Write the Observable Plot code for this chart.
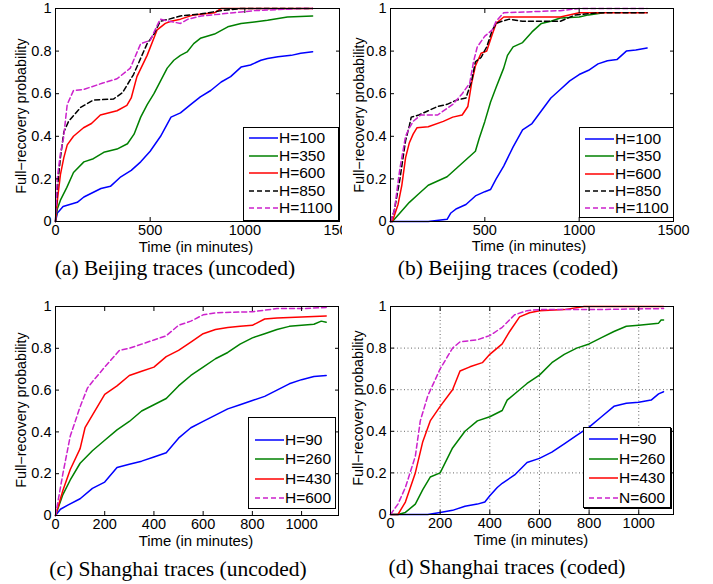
<!DOCTYPE html>
<html>
<head>
<meta charset="utf-8">
<script src="https://cdn.jsdelivr.net/npm/d3@7"></script>
<script src="https://cdn.jsdelivr.net/npm/@observablehq/plot@0.6"></script>
<style>
  html, body { margin: 0; padding: 0; background: #fff; }
  #root { position: relative; width: 713px; height: 584px; overflow: hidden; background: #fff; }
  .panel { position: absolute; background: #fff; }
  .ylab { position: absolute; font: 14.3px "Liberation Sans", Arial, sans-serif; transform: translate(-50%, -50%) rotate(-90deg); white-space: nowrap; color: #000; }
  .xlab { position: absolute; font: 14.9px "Liberation Sans", Arial, sans-serif; transform: translate(-50%, -50%); white-space: nowrap; color: #000; }
  .cap { position: absolute; font: 21.5px "Liberation Serif", "Times New Roman", serif; transform: translate(-50%, -50%); white-space: nowrap; color: #000; }
  .legend { position: absolute; border: 1px solid #000; background: #fff; box-sizing: border-box; }
  .legend .row { position: absolute; left: 0; height: 16px; font: 15.5px "Liberation Sans", Arial, sans-serif; line-height: 16px; white-space: nowrap; }
  .legend svg { position: absolute; top: 0; }
  .legend span { position: absolute; top: 0; }
</style>
</head>
<body>
<div id="root"></div>
<script>
// ---------- data ----------
const xTicksBeijing = [0, 500, 1000, 1500];
const xTicksShanghai = [0, 200, 400, 600, 800, 1000];
const yTicks = [0, 0.2, 0.4, 0.6, 0.8, 1];

const beijingLabels = ["H=100", "H=350", "H=600", "H=850", "H=1100"];
const shanghaiLabelsC = ["H=90", "H=260", "H=430", "H=600"];
const shanghaiLabelsD = ["H=90", "H=260", "H=430", "N=600"];

const captions = ["(a) Beijing traces (uncoded)", "(b) Beijing traces (coded)", "(c) Shanghai traces (uncoded)", "(d) Shanghai traces (coded)"];

// (a) Beijing uncoded: [minutes, probability]
const a_H100 = [[0,0],[10,0.04],[40,0.07],[115,0.09],[150,0.115],[240,0.155],[290,0.165],[345,0.21],[400,0.24],[450,0.28],[500,0.33],[555,0.4],[610,0.49],[660,0.51],[715,0.55],[765,0.585],[820,0.615],[875,0.655],[925,0.68],[980,0.725],[1030,0.735],[1085,0.757],[1120,0.765],[1175,0.773],[1245,0.78],[1295,0.79],[1358,0.797]];
const a_H350 = [[0,0],[10,0.06],[26,0.1],[60,0.16],[95,0.23],[150,0.28],[200,0.295],[255,0.325],[325,0.34],[380,0.365],[415,0.41],[450,0.49],[485,0.55],[520,0.6],[555,0.66],[590,0.72],[625,0.757],[660,0.78],[695,0.796],[730,0.835],[765,0.86],[840,0.88],[910,0.914],[980,0.93],[1050,0.937],[1120,0.945],[1225,0.96],[1358,0.965]];
const a_H600 = [[0,0],[10,0.1],[26,0.22],[44,0.3],[62,0.36],[95,0.4],[148,0.44],[190,0.46],[237,0.5],[325,0.52],[377,0.545],[400,0.58],[430,0.68],[484,0.78],[537,0.9],[580,0.93],[610,0.94],[660,0.95],[730,0.97],[840,0.98],[875,1.0],[1358,1.0]];
const a_H850 = [[0,0],[9,0.15],[26,0.3],[44,0.42],[69,0.47],[132,0.535],[200,0.57],[306,0.575],[354,0.605],[412,0.69],[484,0.835],[520,0.88],[553,0.94],[600,0.95],[660,0.965],[770,0.975],[875,0.99],[980,1.0],[1358,1.0]];
const a_H1100 = [[0,0],[9,0.2],[26,0.32],[42,0.39],[62,0.55],[95,0.615],[148,0.62],[250,0.65],[325,0.67],[395,0.72],[450,0.835],[500,0.85],[553,0.95],[600,0.94],[660,0.93],[700,0.95],[770,0.965],[940,0.98],[1050,0.99],[1300,1.0],[1358,1.0]];

// (b) Beijing coded
const b_H100 = [[0,0],[200,0],[300,0.01],[320,0.04],[350,0.06],[400,0.08],[450,0.12],[500,0.14],[530,0.15],[560,0.2],[600,0.26],[650,0.35],[700,0.43],[750,0.46],[800,0.52],[850,0.58],[900,0.62],[950,0.66],[1000,0.69],[1050,0.71],[1100,0.74],[1150,0.755],[1200,0.76],[1250,0.8],[1300,0.805],[1360,0.815]];
const b_H350 = [[0,0],[10,0],[50,0.04],[100,0.09],[150,0.13],[200,0.17],[250,0.19],[300,0.21],[350,0.25],[400,0.29],[450,0.33],[470,0.39],[500,0.47],[530,0.56],[560,0.63],[600,0.72],[620,0.78],[650,0.82],[700,0.84],[750,0.89],[800,0.93],[850,0.94],[900,0.955],[1000,0.96],[1050,0.97],[1130,0.98]];
const b_H600 = [[0,0],[10,0],[40,0.08],[60,0.17],[80,0.3],[100,0.37],[120,0.41],[140,0.44],[200,0.445],[280,0.47],[330,0.49],[380,0.5],[410,0.54],[430,0.65],[450,0.73],[480,0.79],[510,0.8],[540,0.88],[560,0.93],[600,0.96],[900,0.96],[1000,0.98],[1360,0.98]];
const b_H850 = [[0,0],[20,0.05],[50,0.2],[80,0.38],[100,0.45],[110,0.49],[150,0.5],[200,0.52],[250,0.54],[300,0.55],[350,0.57],[400,0.58],[430,0.66],[450,0.75],[480,0.77],[510,0.82],[540,0.9],[560,0.93],[590,0.94],[630,0.95],[700,0.94],[900,0.94],[980,0.97],[1100,0.98],[1360,0.98]];
const b_H1100 = [[0,0],[20,0.05],[50,0.25],[80,0.4],[100,0.44],[120,0.47],[160,0.5],[250,0.5],[330,0.55],[380,0.6],[420,0.65],[440,0.75],[460,0.82],[500,0.87],[540,0.9],[560,0.94],[600,0.98],[900,0.99],[1000,1.0],[1360,1.0]];

// (c) Shanghai uncoded
const c_H90 = [[0,0],[20,0.03],[50,0.05],[100,0.08],[150,0.13],[200,0.16],[250,0.23],[300,0.245],[350,0.26],[400,0.28],[450,0.3],[500,0.37],[550,0.42],[600,0.45],[650,0.48],[700,0.51],[750,0.53],[800,0.55],[850,0.57],[900,0.6],[950,0.63],[1000,0.65],[1050,0.665],[1100,0.67]];
const c_H260 = [[0,0],[30,0.1],[60,0.17],[100,0.25],[150,0.31],[200,0.36],[250,0.41],[300,0.45],[350,0.5],[400,0.53],[450,0.56],[500,0.62],[550,0.67],[600,0.71],[650,0.75],[700,0.78],[750,0.82],[800,0.85],[850,0.87],[900,0.89],[950,0.905],[1000,0.91],[1050,0.915],[1080,0.93],[1100,0.925]];
const c_H430 = [[0,0],[30,0.12],[60,0.22],[100,0.32],[120,0.42],[150,0.48],[200,0.58],[250,0.62],[300,0.67],[350,0.69],[400,0.71],[450,0.76],[500,0.79],[550,0.83],[600,0.87],[650,0.89],[700,0.9],[750,0.905],[800,0.91],[850,0.94],[900,0.945],[1000,0.95],[1100,0.955]];
const c_H600 = [[0,0],[30,0.2],[60,0.38],[100,0.52],[130,0.61],[150,0.64],[200,0.71],[260,0.79],[300,0.8],[400,0.84],[450,0.86],[500,0.91],[550,0.93],[600,0.96],[650,0.97],[800,0.975],[900,0.99],[1000,0.99],[1100,0.995]];

// (d) Shanghai coded
const d_H90 = [[0,0],[150,0],[200,0.01],[250,0.02],[300,0.04],[350,0.05],[380,0.06],[400,0.09],[430,0.13],[450,0.15],[500,0.19],[550,0.25],[600,0.27],[650,0.3],[700,0.34],[750,0.38],[800,0.42],[850,0.47],[900,0.52],[950,0.535],[1000,0.54],[1050,0.55],[1080,0.58],[1100,0.59]];
const d_H260 = [[0,0],[30,0],[60,0.01],[100,0.05],[130,0.12],[160,0.18],[200,0.2],[250,0.32],[300,0.4],[350,0.45],[400,0.47],[450,0.5],[470,0.55],[520,0.6],[550,0.63],[600,0.67],[650,0.73],[700,0.77],[750,0.8],[800,0.82],[850,0.85],[900,0.88],[950,0.905],[1000,0.91],[1080,0.92],[1090,0.935],[1100,0.935]];
const d_H430 = [[0,0],[30,0],[60,0.06],[100,0.2],[130,0.35],[160,0.45],[200,0.52],[250,0.6],[280,0.69],[320,0.71],[370,0.73],[400,0.77],[450,0.82],[480,0.88],[520,0.95],[560,0.97],[600,0.98],[700,0.985],[780,1.0],[1100,1.0]];
const d_N600 = [[0,0],[30,0.05],[60,0.13],[100,0.28],[120,0.45],[150,0.57],[200,0.7],[250,0.8],[280,0.83],[350,0.84],[400,0.86],[450,0.9],[500,0.96],[550,0.98],[600,0.985],[700,0.985],[800,0.985],[1100,0.99]];

// ---------- styles ----------
const BLUE = "#0000ff", GREEN = "#008000", RED = "#ff0000", BLACK = "#000000", MAG = "#cc22cc";
const beijingStyles = [
  {stroke: BLUE}, {stroke: GREEN}, {stroke: RED},
  {stroke: BLACK, dash: "5,3"}, {stroke: MAG, dash: "5,3"}
];
const shanghaiStyles = [
  {stroke: BLUE}, {stroke: GREEN}, {stroke: RED}, {stroke: MAG, dash: "5,3"}
];

const root = document.getElementById("root");

function makePanel(cfg) {
  const div = document.createElement("div");
  div.className = "panel";
  div.style.left = cfg.left + "px";
  div.style.top = cfg.top + "px";
  div.style.width = cfg.width + "px";
  div.style.height = cfg.height + "px";

  const marks = [];
  if (cfg.grid) {
    marks.push(Plot.gridX(cfg.xTicks.filter(d => d > 0), {stroke: "#000", strokeOpacity: 0.6, strokeDasharray: "1,2.5"}));
    marks.push(Plot.gridY(yTicks.filter(d => d > 0), {stroke: "#000", strokeOpacity: 0.6, strokeDasharray: "1,2.5"}));
  }
  cfg.series.forEach((s, i) => {
    const st = cfg.styles[i];
    marks.push(Plot.line(s, {x: d => d[0], y: d => d[1], stroke: st.stroke, strokeWidth: 1.5, strokeDasharray: st.dash || null, strokeLinejoin: "round"}));
  });
  // axes: labels
  marks.push(Plot.axisX(cfg.xTicks, {anchor: "bottom", tickSize: 0, tickPadding: 3, label: null, tickFormat: d => String(d)}));
  marks.push(Plot.axisY(yTicks, {anchor: "left", tickSize: 0, tickPadding: 4, label: null, tickFormat: d => String(d)}));
  // inward ticks on all sides
  marks.push(Plot.axisX(cfg.xTicks, {anchor: "bottom", tickSize: -4, label: null, tickFormat: () => ""}));
  marks.push(Plot.axisX(cfg.xTicks, {anchor: "top", tickSize: -4, label: null, tickFormat: () => ""}));
  marks.push(Plot.axisY(yTicks, {anchor: "left", tickSize: -4, label: null, tickFormat: () => ""}));
  marks.push(Plot.axisY(yTicks, {anchor: "right", tickSize: -4, label: null, tickFormat: () => ""}));
  marks.push(Plot.frame({stroke: "#000", strokeWidth: 1}));

  const svg = Plot.plot({
    width: cfg.width,
    height: cfg.height,
    marginLeft: cfg.ml, marginRight: cfg.mr, marginTop: cfg.mt, marginBottom: cfg.mb,
    x: {domain: [0, cfg.xMax]},
    y: {domain: [0, 1]},
    style: {fontFamily: "'Liberation Sans', Arial, sans-serif", fontSize: "14.5px", color: "#000", background: "transparent", overflow: "visible"},
    marks
  });
  svg.style.maxWidth = "none";
  div.appendChild(svg);
  root.appendChild(div);

  // axis titles & caption (page coords)
  const yl = document.createElement("div");
  yl.className = "ylab"; yl.textContent = "Full\u2212recovery probability";
  yl.style.left = cfg.ylab[0] + "px"; yl.style.top = cfg.ylab[1] + "px";
  root.appendChild(yl);
  const xl = document.createElement("div");
  xl.className = "xlab"; xl.textContent = "Time (in minutes)";
  xl.style.left = cfg.xlab[0] + "px"; xl.style.top = cfg.xlab[1] + "px";
  root.appendChild(xl);
  const cap = document.createElement("div");
  cap.className = "cap"; cap.textContent = cfg.caption;
  cap.style.left = cfg.cap[0] + "px"; cap.style.top = cfg.cap[1] + "px";
  root.appendChild(cap);

  // legend
  const lg = document.createElement("div");
  lg.className = "legend";
  const L = cfg.legend;
  lg.style.width = L.w + "px"; lg.style.height = L.h + "px";
  if (L.shadow) { lg.style.border = "1.5px solid #000"; lg.style.boxShadow = "1px 1px 0 #000"; }
  cfg.labels.forEach((lab, i) => {
    const st = cfg.styles[i];
    const row = document.createElement("div");
    row.className = "row";
    row.style.top = (L.first + i * L.step - 8) + "px";
    row.style.width = L.w + "px";
    const ns = "http://www.w3.org/2000/svg";
    const s = document.createElementNS(ns, "svg");
    s.setAttribute("width", L.lineLen + 2); s.setAttribute("height", 16);
    s.style.left = (L.lineX - 1) + "px";
    const ln = document.createElementNS(ns, "line");
    ln.setAttribute("x1", 1); ln.setAttribute("x2", L.lineLen + 1);
    ln.setAttribute("y1", 8); ln.setAttribute("y2", 8);
    ln.setAttribute("stroke", st.stroke); ln.setAttribute("stroke-width", 1.5);
    if (st.dash) ln.setAttribute("stroke-dasharray", st.dash);
    s.appendChild(ln);
    row.appendChild(s);
    const sp = document.createElement("span");
    sp.textContent = lab;
    sp.style.left = L.textX + "px";
    row.appendChild(sp);
    lg.appendChild(row);
  });
  div.appendChild(lg);
  lg.style.left = (L.x - cfg.left) + "px";
  lg.style.top = (L.y - cfg.top) + "px";
}

// (a)
makePanel({left: 0, top: 0, width: 360, height: 260, ml: 55, mr: 21, mt: 8, mb: 39,
  xMax: 1500, xTicks: xTicksBeijing, series: [a_H100, a_H350, a_H600, a_H850, a_H1100],
  styles: beijingStyles, labels: beijingLabels, grid: false,
  ylab: [21, 116], xlab: [196, 247], caption: captions[0], cap: [175, 268],
  legend: {x: 243, y: 127, w: 96, h: 94, first: 10, step: 17.5, lineX: 5, lineLen: 29, textX: 35}});
// (b)
makePanel({left: 342, top: 0, width: 371, height: 260, ml: 48, mr: 40, mt: 8, mb: 39,
  xMax: 1500, xTicks: xTicksBeijing, series: [b_H100, b_H350, b_H600, b_H850, b_H1100],
  styles: beijingStyles, labels: beijingLabels, grid: false,
  ylab: [359, 115], xlab: [529, 246], caption: captions[1], cap: [508, 268],
  legend: {x: 579, y: 127, w: 95, h: 91, first: 11, step: 17.3, lineX: 5, lineLen: 29, textX: 35}});
// (c)
makePanel({left: 0, top: 290, width: 360, height: 260, ml: 55, mr: 22, mt: 16, mb: 35,
  xMax: 1150, xTicks: xTicksShanghai, series: [c_H90, c_H260, c_H430, c_H600],
  styles: shanghaiStyles, labels: shanghaiLabelsC, grid: false,
  ylab: [21, 410], xlab: [196, 541], caption: captions[2], cap: [178, 569],
  legend: {x: 248, y: 417, w: 88, h: 92, first: 22, step: 19.3, lineX: 6, lineLen: 29, textX: 36}});
// (d)
makePanel({left: 342, top: 290, width: 371, height: 260, ml: 48, mr: 40, mt: 16, mb: 36,
  xMax: 1140, xTicks: xTicksShanghai, series: [d_H90, d_H260, d_H430, d_N600],
  styles: shanghaiStyles, labels: shanghaiLabelsD, grid: true,
  ylab: [358, 408], xlab: [531, 540], caption: captions[3], cap: [507, 567],
  legend: {x: 583, y: 427, w: 88, h: 81, first: 11, step: 19.5, lineX: 5, lineLen: 29, textX: 35, shadow: true}});
</script>
</body>
</html>
